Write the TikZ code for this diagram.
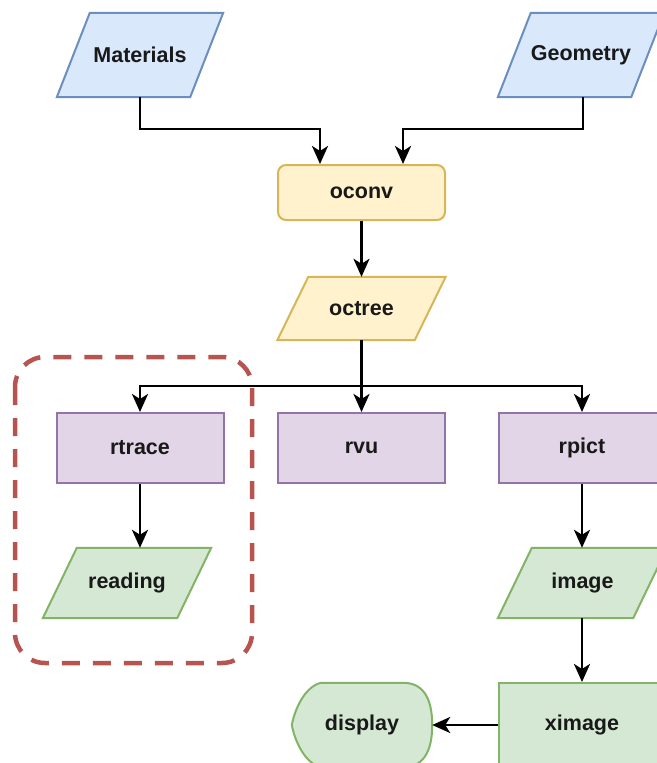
\documentclass[tikz,border=0pt]{standalone}
\usepackage{fontspec}
\setmainfont{Liberation Sans}
\usetikzlibrary{arrows.meta,backgrounds}
\definecolor{bluefill}{HTML}{DAE8FC}
\definecolor{bluedraw}{HTML}{6C8EBF}
\definecolor{yelfill}{HTML}{FFF2CC}
\definecolor{yeldraw}{HTML}{D6B656}
\definecolor{purfill}{HTML}{E1D5E7}
\definecolor{purdraw}{HTML}{9673A6}
\definecolor{grnfill}{HTML}{D5E8D4}
\definecolor{grndraw}{HTML}{82B366}
\definecolor{reddash}{HTML}{B85450}
\newcommand\drawpara[4]{%
  \filldraw[fill=#3,draw=#4,line width=2pt,line join=miter]
    ([xshift=#2]#1.north west) -- (#1.north east) -- ([xshift=-#2]#1.south east)
    -- (#1.south west) -- cycle;}
\begin{document}
\begin{tikzpicture}[x=1pt,y=-1pt,
  lbl/.style={font=\bfseries\fontsize{21.5}{24}\selectfont, inner sep=0pt, text=black!90},
  parabox/.style={lbl, rectangle, draw=none, minimum width=#1, minimum height=84},
  procbox/.style={lbl, rectangle, draw=purdraw, fill=purfill, line width=2pt,
    minimum width=167, minimum height=70},
  arr/.style={line width=2.8pt, arrows={-Stealth[length=18pt,width=16pt,inset=5pt]}}
]
\useasboundingbox (0,0) rectangle (656,763);

% nodes
\node[parabox=166] (mat) at (140,55) {Materials};
\node[parabox=166] (geo) at (581,55) {Geometry};
\node[lbl, rectangle, rounded corners=8pt, draw=yeldraw, fill=yelfill, line width=2pt,
      minimum width=167, minimum height=55] (oconv) at (361.5,192.5) {oconv};
\node[lbl, rectangle, minimum width=168, minimum height=63] (octree) at (361.5,308.5) {octree};
\node[procbox] (rtrace) at (140,448) {rtrace};
\node[procbox] (rvu) at (361.5,448) {rvu};
\node[procbox] (rpict) at (582,448) {rpict};
\node[lbl, rectangle, minimum width=168, minimum height=70] (reading) at (127,583) {reading};
\node[lbl, rectangle, minimum width=169, minimum height=70] (image) at (582.5,583) {image};
\node[lbl, rectangle, draw=grndraw, fill=grnfill, line width=2pt,
      minimum width=166, minimum height=84] (ximage) at (582,725) {ximage};
\node[lbl, rectangle, minimum width=140, minimum height=84] (disp) at (362,725) {display};

\begin{pgfonlayer}{background}
  \drawpara{mat}{33}{bluefill}{bluedraw}
  \drawpara{geo}{33}{bluefill}{bluedraw}
  \drawpara{octree}{31}{yelfill}{yeldraw}
  \drawpara{reading}{34}{grnfill}{grndraw}
  \drawpara{image}{34}{grnfill}{grndraw}
  \filldraw[fill=grnfill, draw=grndraw, line width=2pt, line join=round]
    (disp.west)
    .. controls ([xshift=3,yshift=16]disp.west) and ([xshift=13,yshift=-4]disp.north west) .. ([xshift=29]disp.north west)
    -- ([xshift=-29]disp.north east)
    .. controls ([xshift=-10]disp.north east) and ([yshift=-14]disp.north east) .. (disp.east)
    .. controls ([yshift=14]disp.south east) and ([xshift=-10]disp.south east) .. ([xshift=-29]disp.south east)
    -- ([xshift=29]disp.south west)
    .. controls ([xshift=13,yshift=4]disp.south west) and ([xshift=3,yshift=-16]disp.west) .. (disp.west) -- cycle;
\end{pgfonlayer}

% dashed group
\draw[reddash, line width=4.5pt, dash pattern=on 18pt off 13pt, rounded corners=30pt]
  (15,357) rectangle (252,663);

% connectors
\coordinate (j1) at (0,129);
\coordinate (j2) at (0,386);
\draw[arr] (mat.south) -- (mat.south |- j1) -| ([xshift=-41.5]oconv.north);
\draw[arr] ([xshift=2]geo.south) -- ([xshift=2]geo.south |- j1) -| ([xshift=41.5]oconv.north);
\draw[arr] (oconv.south) -- (octree.north);
\draw[arr] (octree.south) -- (rvu.north);
\draw[arr] (octree.south |- j2) -| (rtrace.north);
\draw[arr] (octree.south |- j2) -| (rpict.north);
\draw[arr] (rtrace.south) -- (rtrace.south |- reading.north);
\draw[arr] (rpict.south) -- (rpict.south |- image.north);
\draw[arr] (image.south -| ximage.north) -- (ximage.north);
\draw[arr] (ximage.west) -- (disp.east);
\end{tikzpicture}
\end{document}
